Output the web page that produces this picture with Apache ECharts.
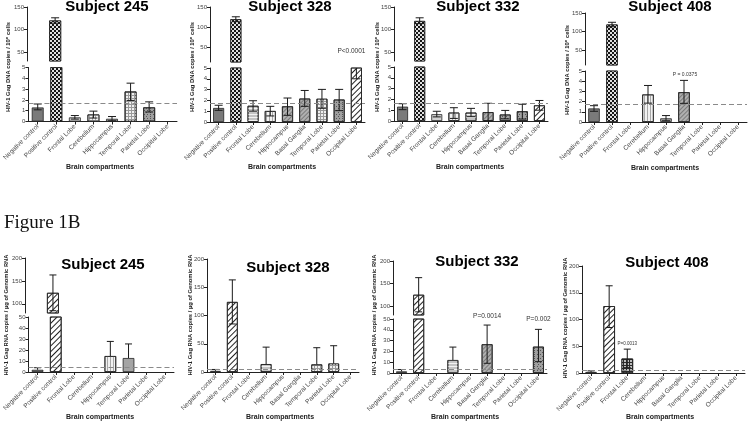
<!DOCTYPE html>
<html><head><meta charset="utf-8">
<script src="https://cdn.jsdelivr.net/npm/echarts@6/dist/echarts.min.js"></script>
<style>html,body{margin:0;padding:0;background:#fff}#c{width:750px;height:422px}</style>
</head><body><div id="c"></div>
<script>
// ---------- categories ----------
const CATS8 = ['Negative control','Positive control','Frontal Lobe','Cerebellum','Hippocampus','Temporal Lobe','Parietal Lobe','Occipital Lobe'];
const CATS9 = ['Negative control','Positive control','Frontal Lobe','Cerebellum','Hippocampus','Basal Ganglia','Temporal Lobe','Parietal Lobe','Occipital Lobe'];

// ---------- DNA (copies / 10^6 cells) ----------
const dna245_val = [1.30, 120, 0.38, 0.65, 0.25, 2.78, 1.31, null];
const dna245_lo  = [1.08, 114, 0.22, 0.32, 0.06, 1.95, 0.88, null];
const dna245_hi  = [1.62, 126, 0.55, 0.96, 0.46, 3.55, 1.82, null];
const dna245_cut = 1.72;

const dna328_val = [1.30, 120, 1.50, 1.02, 1.45, 2.17, 2.15, 2.08, 6.0];
const dna328_lo  = [1.08, 114, 1.00, 0.56, 0.62, 1.45, 1.27, 1.05, 4.0];
const dna328_hi  = [1.55, 126, 1.97, 1.45, 2.22, 2.92, 3.02, 3.02, 8.0];
const dna328_cut = 1.72;

const dna332_val = [1.33, 119, 0.63, 0.78, 0.78, 0.82, 0.60, 0.90, 1.45];
const dna332_lo  = [1.05, 113, 0.38, 0.24, 0.40, 0.00, 0.20, 0.18, 1.00];
const dna332_hi  = [1.60, 126, 0.90, 1.23, 1.17, 1.64, 0.98, 1.55, 1.90];
const dna332_cut = 1.66;

const dna408_val = [1.33, 119, null, 2.70, 0.36, 2.92, null, null, null];
const dna408_lo  = [1.05, 113, null, 1.85, 0.12, 1.83, null, null, null];
const dna408_hi  = [1.60, 125, null, 3.58, 0.63, 4.08, null, null, null];
const dna408_cut = 1.72;

// ---------- RNA (copies / ug genomic RNA) ----------
const rna245_val = [2.0, 124, null, null, 14.5, 12.7, null, null];
const rna245_lo  = [2.0,  85, null, null, 14.5, 12.7, null, null];
const rna245_hi  = [3.9, 163, null, null, 27.8, 25.5, null, null];
const rna245_cut = 4.5;

const rna328_val = [2.0, 124, null, 14.0, null, null, 13.5, 15.0, null];
const rna328_lo  = [2.0,  85, null, 14.0, null, null, 13.5, 15.0, null];
const rna328_hi  = [4.5, 163, null, 44.0, null, null, 43.0, 46.5, null];
const rna328_cut = 5.5;

const rna332_val = [1.5, 125, null, 12.0, null, 26.6, null, null, 24.4];
const rna332_lo  = [1.5,  87, null, 12.0, null,  9.0, null, null, 10.5];
const rna332_hi  = [3.2, 163, null, 24.0, null, 44.4, null, null, 40.4];
const rna332_cut = 3.8;

const rna408_val = [2.0, 125, 27.0, null, null, null, null, null, null];
const rna408_lo  = [2.0,  85, 10.0, null, null, null, null, null, null];
const rna408_hi  = [4.0, 163, 44.6, null, null, null, null, null, null];
const rna408_cut = 4.3;

// ---------- text ----------
const DNA_YLABEL = 'HIV-1 Gag DNA copies / 10\u2076 cells';
const RNA_YLABEL = 'HIV-1 Gag RNA copies / \u00b5g of Genomic RNA';
const XNAME = 'Brain compartments';

// ---------- styles ----------
const FONT = '"Liberation Sans", Arial, sans-serif';
const FILLS = {
  dark:    {color:'#7a7a7a'},
  light:   {color:'#d2d2d2'},
  gray:    {color:'#a4a4a4'},
  checker: {color:'#151515', decal:{symbol:'rect', symbolSize:1, color:'#e0e0e0', dashArrayX:[[2,2],[0,2,2,0]], dashArrayY:[2,0]}},
  darkgrid:{color:'#2a2a2a', decal:{symbol:'rect', symbolSize:1, color:'#bdbdbd', dashArrayX:[2,1], dashArrayY:[2,1]}},
  hatch:   {color:'#ffffff', decal:{symbol:'rect', symbolSize:1, color:'#222', dashArrayX:[1,0], dashArrayY:[1,2.2], rotation:-Math.PI/4}},
  diag:    {color:'#b0b0b0', decal:{symbol:'rect', symbolSize:1, color:'#7a7a7a', dashArrayX:[1,0], dashArrayY:[1,2], rotation:-Math.PI/4}},
  hstripe: {color:'#c4c4c4', decal:{symbol:'rect', symbolSize:1, color:'#f2f2f2', dashArrayX:[1,0], dashArrayY:[1,1.5]}},
  vstripe: {color:'#f2f2f2', decal:{symbol:'rect', symbolSize:1, color:'#a8a8a8', dashArrayX:[1,0], dashArrayY:[1,1.5], rotation:Math.PI/2}},
  grid:    {color:'#9a9a9a', decal:{symbol:'rect', symbolSize:1, color:'#f0f0f0', dashArrayX:[2,1], dashArrayY:[2,1]}},
  dots:    {color:'#a0a0a0', decal:{symbol:'rect', symbolSize:1, color:'#555', dashArrayX:[[1,2],[0,1.5,1,0.5]], dashArrayY:[1,1]}}
};
const STY_DNA245 = ['dark','checker','light','vstripe','gray','grid','dots',null];
const STY_DNA328 = ['dark','checker','hstripe','vstripe','diag','diag','grid','dots','hatch'];
const STY_DNA332 = ['dark','checker','light','vstripe','hstripe','diag','dots','dots','hatch'];
const STY_DNA408 = ['dark','checker',null,'vstripe','gray','diag',null,null,null];
const STY_RNA245 = ['dark','hatch',null,null,'vstripe','gray',null,null];
const STY_RNA328 = ['dark','hatch',null,'hstripe',null,null,'grid','grid',null];
const STY_RNA332 = ['dark','hatch',null,'hstripe',null,'diag',null,null,'dots'];
const STY_RNA408 = ['dark','hatch','darkgrid',null,null,null,null,null,null];

// ---------- panel layout ----------
const panels = [
  {title:'Subject 245', tx:107, ty:7, cats:CATS8, val:dna245_val, lo:dna245_lo, hi:dna245_hi, cut:dna245_cut, sty:STY_DNA245,
   left:27, width:150, cap:4,
   upper:{top:7, height:54, min:30, max:150, ticks:[50,100,150]},
   lower:{top:67.5, height:54, min:0, max:5, ticks:[0,1,2,3,4,5]},
   ylab:DNA_YLABEL, yx:8, yy:67, nx:100, ny:167, ann:[]},
  {title:'Subject 328', tx:290, ty:7, cats:CATS9, val:dna328_val, lo:dna328_lo, hi:dna328_hi, cut:dna328_cut, sty:STY_DNA328,
   left:210, width:155, cap:4,
   upper:{top:7, height:55, min:15, max:150, ticks:[50,100,150]},
   lower:{top:68, height:54, min:0, max:5, ticks:[0,1,2,3,4,5]},
   ylab:DNA_YLABEL, yx:192, yy:67, nx:282, ny:167,
   ann:[{where:'upper', cat:8, y:42, text:'P<0.0001', size:6.5, dx:-5}]},
  {title:'Subject 332', tx:478, ty:7, cats:CATS9, val:dna332_val, lo:dna332_lo, hi:dna332_hi, cut:dna332_cut, sty:STY_DNA332,
   left:394, width:154, cap:4,
   upper:{top:7, height:54, min:30, max:150, ticks:[50,100,150]},
   lower:{top:67, height:54, min:0, max:5, ticks:[0,1,2,3,4,5]},
   ylab:DNA_YLABEL, yx:377, yy:67, nx:470, ny:167, ann:[]},
  {title:'Subject 408', tx:670, ty:7, cats:CATS9, val:dna408_val, lo:dna408_lo, hi:dna408_hi, cut:dna408_cut, sty:STY_DNA408,
   left:585, width:162, cap:4,
   upper:{top:13, height:52, min:10, max:150, ticks:[50,100,150]},
   lower:{top:71, height:51, min:0, max:5, ticks:[0,1,2,3,4,5]},
   ylab:DNA_YLABEL, yx:567, yy:70, nx:665, ny:168,
   ann:[{where:'lower', cat:5, y:4.6, text:'P = 0.0375', size:5, dx:1}]},
  {title:'Subject 245', tx:103, ty:265, cats:CATS8, val:rna245_val, lo:rna245_lo, hi:rna245_hi, cut:rna245_cut, sty:STY_RNA245,
   left:25, width:149, cap:3.5,
   upper:{top:258, height:55, min:80, max:200, ticks:[100,150,200]},
   lower:{top:317, height:55, min:0, max:50, ticks:[0,10,20,30,40,50]},
   ylab:RNA_YLABEL, yx:6, yy:315, nx:100, ny:417, ann:[]},
  {title:'Subject 328', tx:288, ty:268, cats:CATS9, val:rna328_val, lo:rna328_lo, hi:rna328_hi, cut:rna328_cut, sty:STY_RNA328,
   left:207, width:152, cap:3.5, upper:null,
   lower:{top:259, height:113, min:0, max:200, ticks:[0,50,100,150,200]},
   ylab:RNA_YLABEL, yx:190, yy:315, nx:280, ny:417, ann:[]},
  {title:'Subject 332', tx:477, ty:262, cats:CATS9, val:rna332_val, lo:rna332_lo, hi:rna332_hi, cut:rna332_cut, sty:STY_RNA332,
   left:393, width:154, cap:3.5,
   upper:{top:261, height:54, min:80, max:200, ticks:[100,150,200]},
   lower:{top:319, height:54, min:0, max:50, ticks:[0,10,20,30,40,50]},
   ylab:RNA_YLABEL, yx:374, yy:315, nx:465, ny:417,
   ann:[{where:'lower', cat:5, y:49, text:'P=0.0014', size:6.5, dx:0, dy:-4},
        {where:'lower', cat:8, y:49, text:'P=0.002', size:6.5, dx:0, dy:-1}]},
  {title:'Subject 408', tx:667, ty:263, cats:CATS9, val:rna408_val, lo:rna408_lo, hi:rna408_hi, cut:rna408_cut, sty:STY_RNA408,
   left:582, width:163, cap:3.5, upper:null,
   lower:{top:266, height:107, min:0, max:200, ticks:[0,50,100,150,200]},
   ylab:RNA_YLABEL, yx:565, yy:318, nx:660, ny:417,
   ann:[{where:'lower', cat:2, y:54, text:'P=0.0013', size:4.5, dx:0}]}
];

const grids=[], xAxes=[], yAxes=[], series=[], graphics=[];

function errRender(ymin, ymax, cap){
  return function(params, api){
    const i = api.value(0), v = api.value(1), lo = api.value(2), hi = api.value(3);
    const a = Math.max(lo, ymin), b = Math.min(hi, ymax);
    if (!(b > a)) return null;
    const p1 = api.coord([i, a]), p2 = api.coord([i, b]);
    const st = {stroke:'#1a1a1a', lineWidth:1};
    const ch = [{type:'line', shape:{x1:p1[0], y1:p1[1], x2:p2[0], y2:p2[1]}, style:st}];
    if (hi > v && hi <= ymax && hi >= ymin) { const q = api.coord([i, hi]); ch.push({type:'line', shape:{x1:q[0]-cap, y1:q[1], x2:q[0]+cap, y2:q[1]}, style:st}); }
    if (lo < v && lo >= ymin && lo <= ymax) { const q = api.coord([i, lo]); ch.push({type:'line', shape:{x1:q[0]-cap, y1:q[1], x2:q[0]+cap, y2:q[1]}, style:st}); }
    return {type:'group', children:ch};
  };
}

function addPart(p, g, isLower){
  const gi = grids.length;
  grids.push({left:p.left, top:g.top, width:p.width, height:g.height, containLabel:false});
  xAxes.push({type:'category', gridIndex:gi, data:p.cats, show:isLower, boundaryGap:true,
    axisLine:{show:true, lineStyle:{color:'#222', width:1}},
    axisTick:{show:true, alignWithLabel:true, length:3, lineStyle:{color:'#222'}},
    axisLabel:{interval:0, rotate:45, fontSize:6.5, color:'#444', margin:4, fontFamily:FONT},
    splitLine:{show:false}});
  yAxes.push({type:'value', gridIndex:gi, min:g.min, max:g.max,
    axisLine:{show:true, lineStyle:{color:'#222', width:1}},
    axisTick:{show:true, length:3, customValues:g.ticks, lineStyle:{color:'#222'}},
    axisLabel:{fontSize:6, color:'#444', margin:3, customValues:g.ticks, fontFamily:FONT},
    splitLine:{show:false}});
  const data = p.cats.map((c, i) => {
    const v = p.val[i];
    if (v == null || v < g.min || !p.sty[i]) return '-';
    const f = FILLS[p.sty[i]];
    const it = {color:f.color, borderColor:'#222', borderWidth:0.8};
    if (f.decal) it.decal = f.decal;
    return {value:v, itemStyle:it};
  });
  const anns = p.ann.filter(a => a.where === (isLower ? 'lower' : 'upper'));
  const bar = {type:'bar', xAxisIndex:gi, yAxisIndex:gi, data, barWidth:'64%', clip:true, silent:true, z:2, animation:false};
  if (isLower) bar.markLine = {silent:true, symbol:['none','none'], animation:false, label:{show:false},
      lineStyle:{color:'#8a8a8a', type:[5,3], width:1}, data:[{yAxis:p.cut}]};
  if (anns.length) bar.markPoint = {symbol:'circle', symbolSize:0, animation:false,
      data: anns.map(a => ({coord:[a.cat, a.y], label:{show:true, formatter:a.text, position:'inside', offset:[a.dx||0, a.dy||0], fontSize:a.size, color:'#333', fontFamily:FONT}}))};
  series.push(bar);
  const err = [];
  p.val.forEach((v, i) => { if (v != null) err.push([i, v, p.lo[i], p.hi[i]]); });
  series.push({type:'custom', xAxisIndex:gi, yAxisIndex:gi, data:err, renderItem:errRender(g.min, g.max, p.cap), z:3, silent:true, animation:false});
}

panels.forEach(p => {
  if (p.upper) addPart(p, p.upper, false);
  addPart(p, p.lower, true);
  graphics.push({type:'text', x:p.tx, y:p.ty, style:{text:p.title, font:'bold 15px ' + FONT, fill:'#000', textAlign:'center', textVerticalAlign:'middle'}});
  graphics.push({type:'text', x:p.yx, y:p.yy, rotation:Math.PI/2, style:{text:p.ylab, font:'bold 5.8px ' + FONT, fill:'#222', textAlign:'center', textVerticalAlign:'middle'}});
  graphics.push({type:'text', x:p.nx, y:p.ny, style:{text:XNAME, font:'bold 7px ' + FONT, fill:'#222', textAlign:'center', textVerticalAlign:'middle'}});
});
graphics.push({type:'text', x:4, y:223, style:{text:'Figure 1B', font:'19px "Liberation Serif", "Times New Roman", serif', fill:'#111', textAlign:'left', textVerticalAlign:'middle'}});

const chart = echarts.init(document.getElementById('c'), null, {renderer:'canvas', width:750, height:422});
chart.setOption({animation:false, backgroundColor:'#fff', grid:grids, xAxis:xAxes, yAxis:yAxes, series, graphic:graphics});
</script>
</body></html>
